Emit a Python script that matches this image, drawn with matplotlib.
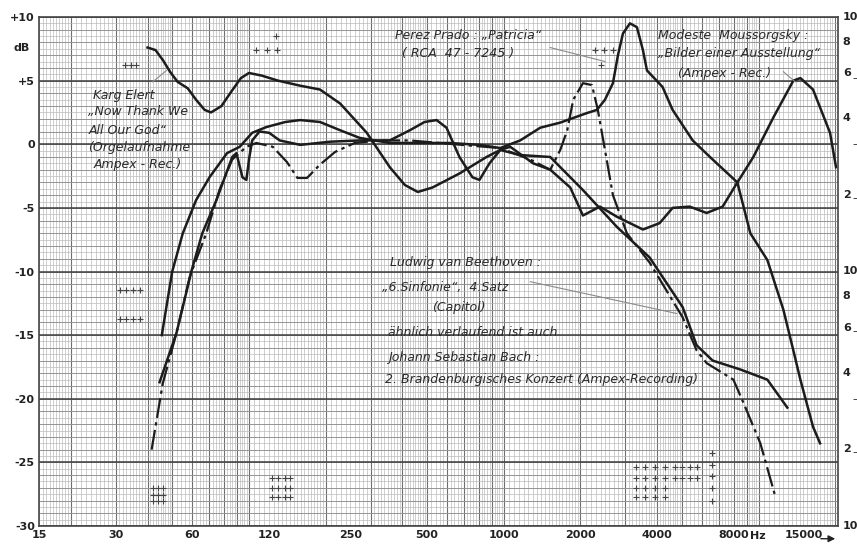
import matplotlib
matplotlib.use("Agg")
import matplotlib.pyplot as plt
import numpy as np

# frequency (Hz) / level (dB)
karg_hz = [40, 43, 46, 49, 52.5, 57.5, 62, 67, 71, 78, 85, 93, 100, 112, 130, 159, 190, 228, 290, 357,
           409, 460, 525, 670, 856, 969, 1160, 1522, 2045, 2782, 3737, 5036, 5714, 6605, 8480, 10827, 12970]
karg_db = [7.6, 7.4, 6.6, 5.7, 4.9, 4.4, 3.5, 2.7, 2.5, 3.0, 4.1, 5.2, 5.6, 5.4, 5.0, 4.6, 4.3, 3.2, 0.9, -1.8,
           -3.2, -3.75, -3.4, -2.3, -1.0, -0.45, -0.85, -1.0, -3.6, -6.5, -8.9, -12.8, -15.8, -17.0, -17.7, -18.5, -20.7]

prado_hz = [45.5, 50, 55, 62, 70, 82, 92, 103, 117, 139, 159, 190, 228, 272, 357, 468, 613, 803, 969, 1160,
            1391, 1666, 2120, 2321, 2496, 2682, 2807, 2936, 3128, 3331, 3517, 3648, 4200, 4600, 5514, 6605,
            8256, 9285, 10827, 12511, 13693, 14592, 16358, 17434]
prado_db = [-15.0, -10.0, -7.0, -4.4, -2.6, -0.7, -0.2, 0.9, 1.35, 1.75, 1.9, 1.75, 1.1, 0.5, 0.1, 0.1, 0.1, -0.05, -0.3, 0.3,
            1.3, 1.7, 2.45, 2.7, 3.5, 4.8, 7.0, 8.7, 9.5, 9.2, 7.4, 5.8, 4.5, 2.7, 0.3, -1.2,
            -3.0, -7.0, -9.1, -13.0, -16.2, -18.5, -22.2, -23.5]

mouss_hz = [44.6, 52, 59.6, 65.6, 74.5, 86, 89.3, 94.3, 97.7, 100.4, 103, 110, 120, 132, 159, 208, 272, 357,
            428, 489, 545, 596, 670, 754, 803, 879, 969, 1060, 1305, 1522, 1824, 2045, 2385, 2782, 3517, 4090,
            4600, 5364, 6255, 7230, 8256, 9539, 11428, 13693, 14592, 16358, 19077, 20137]
mouss_db = [-18.7, -14.8, -9.9, -7.0, -4.4, -1.0, -0.7, -2.6, -2.8, -1.0, 0.3, 1.0, 0.9, 0.3, -0.05, 0.2, 0.3, 0.3,
            1.1, 1.75, 1.9, 1.3, -1.0, -2.6, -2.8, -1.5, -0.45, -0.2, -1.5, -2.0, -3.4, -5.6, -4.9, -5.7, -6.7, -6.2,
            -5.0, -4.9, -5.4, -4.9, -3.0, -1.0, 2.1, 5.0, 5.2, 4.3, 0.9, -1.8]

beet_hz = [41.5, 45.9, 52, 58.6, 68, 76.6, 86, 97.7, 107, 124, 141, 155, 169, 190, 218, 260, 326, 428, 560,
           734, 969, 1270, 1522, 1666, 1775, 1874, 2045, 2219, 2340, 2496, 2682, 3043, 3737, 5036, 5714, 6255,
           7964, 8717, 10161, 11643]
beet_db = [-24.0, -18.8, -14.8, -10.4, -7.0, -3.6, -1.2, -0.2, 0.1, -0.2, -1.4, -2.65, -2.65, -1.6, -0.6, 0.1, 0.3, 0.3, 0.1,
           -0.1, -0.3, -1.2, -2.0, -0.45, 1.1, 3.5, 4.8, 4.65, 2.7, -0.45, -4.0, -7.0, -9.3, -13.6, -16.2, -17.2,
           -18.5, -20.3, -23.5, -27.7]

# little printed crosses on the paper
cross_hz = [3302, 3583, 3910, 4278] * 4 + [4686, 4992, 5364, 5714] * 2 + [6544] * 5 \
    + [41.9, 43.9, 45.9] * 3 + [123, 130, 139, 145] * 3 + [31.1, 33, 35, 37.5] * 2 \
    + [32.5, 34.4, 36, 128, 107, 118, 129, 2279, 2480, 2680, 2400]
cross_db = [-25.4] * 4 + [-26.2] * 4 + [-27.0] * 4 + [-27.7] * 4 + [-25.4] * 4 + [-26.2] * 4 \
    + [-24.3, -25.2, -26.1, -27.0, -28.0] + [-27.0] * 3 + [-27.6] * 3 + [-28.0] * 3 \
    + [-26.2] * 4 + [-27.0] * 4 + [-27.7] * 4 + [-11.45] * 4 + [-13.7] * 4 \
    + [6.2, 6.2, 6.2, 8.5, 7.4, 7.4, 7.4, 7.4, 7.4, 7.4, 6.2]

x_labels = [15, 30, 60, 120, 250, 500, 1000, 2000, 4000, 8000, 15000]
y_labels = ["-30", "-25", "-20", "-15", "-10", "-5", "0", "+5", "+10"]
ratio_labels = ["10", "8", "6", "4", "2", "10", "8", "6", "4", "2", "10"]
ratio_db = [10, 8.06, 5.56, 2.04, -3.98, -10, -11.94, -14.44, -17.96, -23.98, -30]

fig = plt.figure(figsize=(8.57, 5.47), dpi=100)
ax = fig.add_axes([39 / 857, 21 / 547, 799 / 857, 509 / 547])
ax.set_xscale("log")
ax.set_xlim(15, 20500)
ax.set_ylim(-30, 10)

# graph paper
fine = np.concatenate([np.arange(10, 20, 0.5), np.arange(20, 50, 1), np.arange(50, 100, 2)])
fine = np.concatenate([fine * 10 ** k for k in range(0, 4)])
coarse = np.concatenate([np.arange(1, 10) * 10 ** k for k in range(1, 5)])
ax.vlines(fine, -30, 10, color="#b4b4b4", lw=0.45, zorder=0)
ax.vlines(coarse, -30, 10, color="#6e6e6e", lw=0.8, zorder=0)
ax.hlines(np.arange(-30, 10.1, 0.5), 15, 20500, color="#b4b4b4", lw=0.45, zorder=0)
ax.hlines(np.arange(-30, 10.1, 1), 15, 20500, color="#8c8c8c", lw=0.6, zorder=0)
ax.hlines(np.arange(-30, 10.1, 5), 15, 20500, color="#3c3c3c", lw=1.1, zorder=0)

ax.plot(cross_hz, cross_db, ls="none", marker="+", ms=4.5, mew=0.8, color="#444444", zorder=1)

ink = "#1c1c1c"
ax.plot(karg_hz, karg_db, color=ink, lw=1.8)
ax.plot(prado_hz, prado_db, color=ink, lw=1.8)
ax.plot(mouss_hz, mouss_db, color=ink, lw=1.8)
ax.plot(beet_hz, beet_db, color=ink, lw=1.6, ls=(0, (9, 2, 1.5, 2)))

for s in ax.spines.values():
    s.set_color("#444444")
    s.set_linewidth(1.2)

ax.set_xticks(x_labels)
ax.set_xticklabels([str(v) for v in x_labels], fontsize=8, fontweight="bold", color="#222222")
ax.xaxis.set_minor_locator(matplotlib.ticker.NullLocator())
ax.set_yticks(range(-30, 11, 5))
ax.set_yticklabels(y_labels, fontsize=8, fontweight="bold", color="#222222")
ax.tick_params(length=0, pad=3)
ax.text(-0.012, 7.56, "dB", transform=ax.get_yaxis_transform(), ha="right", va="center",
        fontsize=8, fontweight="bold", color="#222222")

for lab, d in zip(ratio_labels, ratio_db):
    ax.text(1.006, d, lab, transform=ax.get_yaxis_transform(), ha="left", va="center",
            fontsize=8, fontweight="bold", color="#222222")
for d in [5.2, 0, -4.2, -14.7, -20, -24.2]:
    ax.text(1.018, d, "\u2013", transform=ax.get_yaxis_transform(), ha="left", va="center",
            fontsize=8, color="#222222")

ax.text(9900, -30.4, "Hz", ha="center", va="top", fontsize=8, fontweight="bold", color="#222222")
ax.annotate("", xy=(1.0, -0.025), xytext=(0.975, -0.025), xycoords="axes fraction",
            arrowprops=dict(arrowstyle="-|>", color="#222222", lw=1.0), annotation_clip=False)

hand = dict(fontsize=9, style="italic", color="#2a2a2a", ha="left", va="center")


def note(x, y, s):
    fig.text(x / 857, 1 - y / 547, s, **hand)


note(93, 95, "Karg Elert")
note(88, 112, "\u201eNow Thank We")
note(89, 130, "All Our God\u201c")
note(88, 147, "(Orgelaufnahme")
note(94, 165, "Ampex - Rec.)")

note(395, 35, "Perez Prado : \u201ePatricia\u201c")
note(402, 53, "( RCA  47 - 7245 )")

note(658, 35, "Modeste  Moussorgsky :")
note(658, 53, "\u201eBilder einer Ausstellung\u201c")
note(678, 73, "(Ampex - Rec.)")

note(390, 263, "Ludwig van Beethoven :")
note(382, 287, "\u201e6.Sinfonie\u201c,  4.Satz")
note(432, 308, "(Capitol)")
note(388, 333, "\u00e4hnlich verlaufend ist auch")
note(388, 357, "Johann Sebastian Bach :")
note(385, 380, "2. Brandenburgisches Konzert (Ampex-Recording)")

# leader lines
lead = dict(color="#8a8a8a", lw=0.8)
ax.plot([41.9, 47.5], [4.9, 5.8], **lead)
ax.plot([1522, 2496], [7.6, 6.5], **lead)
ax.plot([12511, 13940], [5.7, 4.9], **lead)
ax.plot([1270, 4769], [-10.8, -13.3], **lead)

fig.savefig("out.png", dpi=100, facecolor="white")
